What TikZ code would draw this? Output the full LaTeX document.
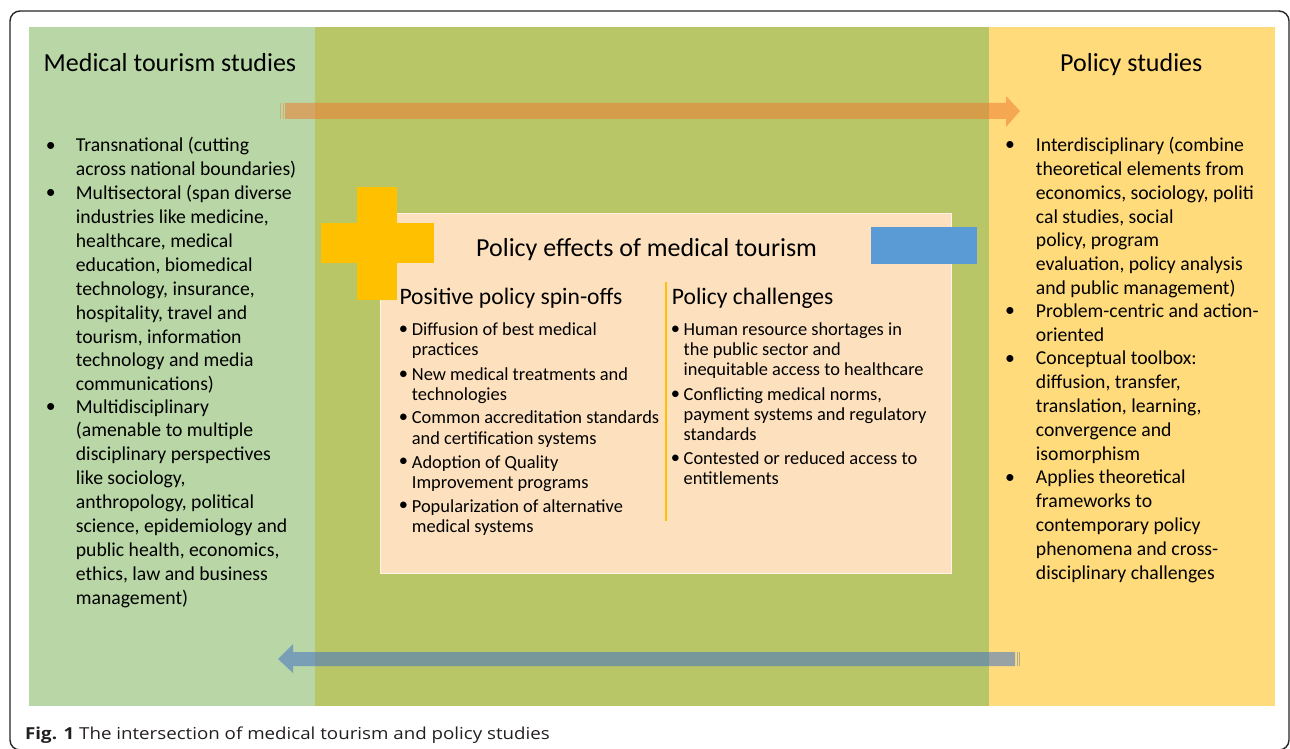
\documentclass[tikz,border=0pt]{standalone}
\usepackage{fontspec}
\setmainfont{Carlito}
\newfontfamily\capfont{Open Sans}
\definecolor{greenP}{HTML}{B9D6A6}
\definecolor{oliveP}{HTML}{B9C667}
\definecolor{yellowP}{HTML}{FFDB7B}
\definecolor{peach}{HTML}{FDE1BF}
\definecolor{plusY}{HTML}{FFC000}
\definecolor{blueR}{HTML}{5B9BD5}
\definecolor{arrO}{HTML}{ED7D31}
\definecolor{arrB}{HTML}{4472C4}
\definecolor{capC}{HTML}{231F20}
\tikzset{
  sidetitle/.style={inner sep=0, anchor=base west, font=\fontsize{26}{31}\selectfont},
  sideitem/.style={inner sep=0, anchor=north west, align=left, yshift=16.6pt,
    execute at begin node=\strut, font=\fontsize{19.7}{23.9}\selectfont},
  sidebul/.style={inner sep=0, anchor=base, yshift=3pt, font=\fontsize{19.7}{23.9}\selectfont},
  subtitle/.style={inner sep=0, anchor=base west, font=\fontsize{23.6}{28}\selectfont},
  citem/.style={inner sep=0, anchor=north west, align=left, yshift=12.5pt,
    execute at begin node=\strut, font=\fontsize{18.4}{20.2}\selectfont},
  cbul/.style={inner sep=0, anchor=base, yshift=0.8pt, font=\fontsize{18.4}{20.2}\selectfont},
}
\begin{document}
\begin{tikzpicture}[x=1pt,y=-1pt]
\useasboundingbox (0,0) rectangle (1290,749);
\fill[white] (0,0) rectangle (1290,749);
\draw[line width=1.4pt, black!85, rounded corners=10pt] (10,11) rectangle (1289,750);
% panels
\fill[greenP] (29,27) rectangle (315,706);
\fill[oliveP] (315,27) rectangle (989,706);
\fill[yellowP] (989,27) rectangle (1275,706);
% titles
\node[sidetitle] (mts) at (43.5,71.7) {Medical tourism studies};
\node[sidetitle] (ps) at (1060,71.7) {Policy studies};
% arrows
\fill[arrO, opacity=0.55] (285,103) -- (1006,103) -- (1006,96) -- (1020,111) -- (1006,127) -- (1006,119) -- (285,119) -- cycle;
\fill[arrO, opacity=0.45] (280,103) rectangle (281,119);
\fill[arrO, opacity=0.45] (282.5,103) rectangle (283.5,119);
\fill[arrB, opacity=0.55] (278,659) -- (293,644) -- (293,652) -- (1015,652) -- (1015,666) -- (293,666) -- (293,673) -- cycle;
\fill[arrB, opacity=0.45] (1016.5,652) rectangle (1017.5,666);
\fill[arrB, opacity=0.45] (1019,652) rectangle (1020,666);
% central box
\fill[peach] (380,213) rectangle (951,573);
\draw[white!60!peach, line width=0.8pt] (380,213) rectangle (951,573);
\fill[plusY] (357,187) rectangle (397,300);
\fill[plusY] (321,223) rectangle (434,263);
\fill[blueR] (871,227) rectangle (977,264);
\draw[plusY, line width=1.4pt] (666,282) -- (666,521);
\node[inner sep=0, anchor=base west, font=\fontsize{26}{31}\selectfont] (pe) at (476,256.7) {Policy effects of medical tourism};
\node[subtitle] (pos) at (399.3,304) {Positive policy spin-offs};
\node[subtitle] (pch) at (671.7,304) {Policy challenges};
% left column items
\node[sidebul] (lb1) at (50.7,154) {•};
\node[sideitem] (l1) at (75.7,154) {Transnational (cutting\\across national boundaries)};
\node[sidebul] (lb2) at (50.7,201.6) {•};
\node[sideitem] (l2) at (75.7,201.6) {Multisectoral (span diverse\\industries like medicine,\\healthcare, medical\\education, biomedical\\technology, insurance,\\hospitality, travel and\\tourism, information\\technology and media\\communications)};
\node[sidebul] (lb3) at (50.7,415.8) {•};
\node[sideitem] (l3) at (75.7,415.8) {Multidisciplinary\\(amenable to multiple\\disciplinary perspectives\\like sociology,\\anthropology, political\\science, epidemiology and\\public health, economics,\\ethics, law and business\\management)};
% right column items
\node[sidebul] (rb1) at (1010,153.3) {•};
\node[sideitem] (r1) at (1035.7,153.3) {Interdisciplinary (combine\\theoretical elements from\\economics, sociology, politi\\cal studies, social\\policy, program\\evaluation, policy analysis\\and public management)};
\node[sidebul] (rb2) at (1010,319.9) {•};
\node[sideitem] (r2) at (1035.7,319.9) {Problem-centric and action-\\oriented};
\node[sidebul] (rb3) at (1010,367.5) {•};
\node[sideitem] (r3) at (1035.7,367.5) {Conceptual toolbox:\\diffusion, transfer,\\translation, learning,\\convergence and\\isomorphism};
\node[sidebul] (rb4) at (1010,486.5) {•};
\node[sideitem] (r4) at (1035.7,486.5) {Applies theoretical\\frameworks to\\contemporary policy\\phenomena and cross-\\disciplinary challenges};
% center left
\node[cbul] (cb1) at (403.5,335) {•};
\node[citem] (c1) at (411.7,335) {Diffusion of best medical\\practices};
\node[cbul] (cb2) at (403.5,380) {•};
\node[citem] (c2) at (411.7,380) {New medical treatments and\\technologies};
\node[cbul] (cb3) at (403.5,423.5) {•};
\node[citem] (c3) at (411.7,423.5) {Common accreditation standards\\and certification systems};
\node[cbul] (cb4) at (403.5,467.7) {•};
\node[citem] (c4) at (411.7,467.7) {Adoption of Quality\\Improvement programs};
\node[cbul] (cb5) at (403.5,511.7) {•};
\node[citem] (c5) at (411.7,511.7) {Popularization of alternative\\medical systems};
% center right
\node[cbul] (db1) at (675.5,335) {•};
\node[citem] (d1) at (683.5,335) {Human resource shortages in\\the public sector and\\inequitable access to healthcare};
\node[cbul] (db2) at (675.5,400) {•};
\node[citem] (d2) at (683.5,400) {Conflicting medical norms,\\payment systems and regulatory\\standards};
\node[cbul] (db3) at (675.5,464) {•};
\node[citem] (d3) at (683.5,464) {Contested or reduced access to\\entitlements};
% caption
\node[inner sep=0, anchor=base west, text=capC, font=\capfont\fontsize{16.5}{19}\selectfont] (cap) at (25,739) {\scalebox{1.135}[1]{\textbf{Fig. 1} The intersection of medical tourism and policy studies}};
\end{tikzpicture}
\end{document}
